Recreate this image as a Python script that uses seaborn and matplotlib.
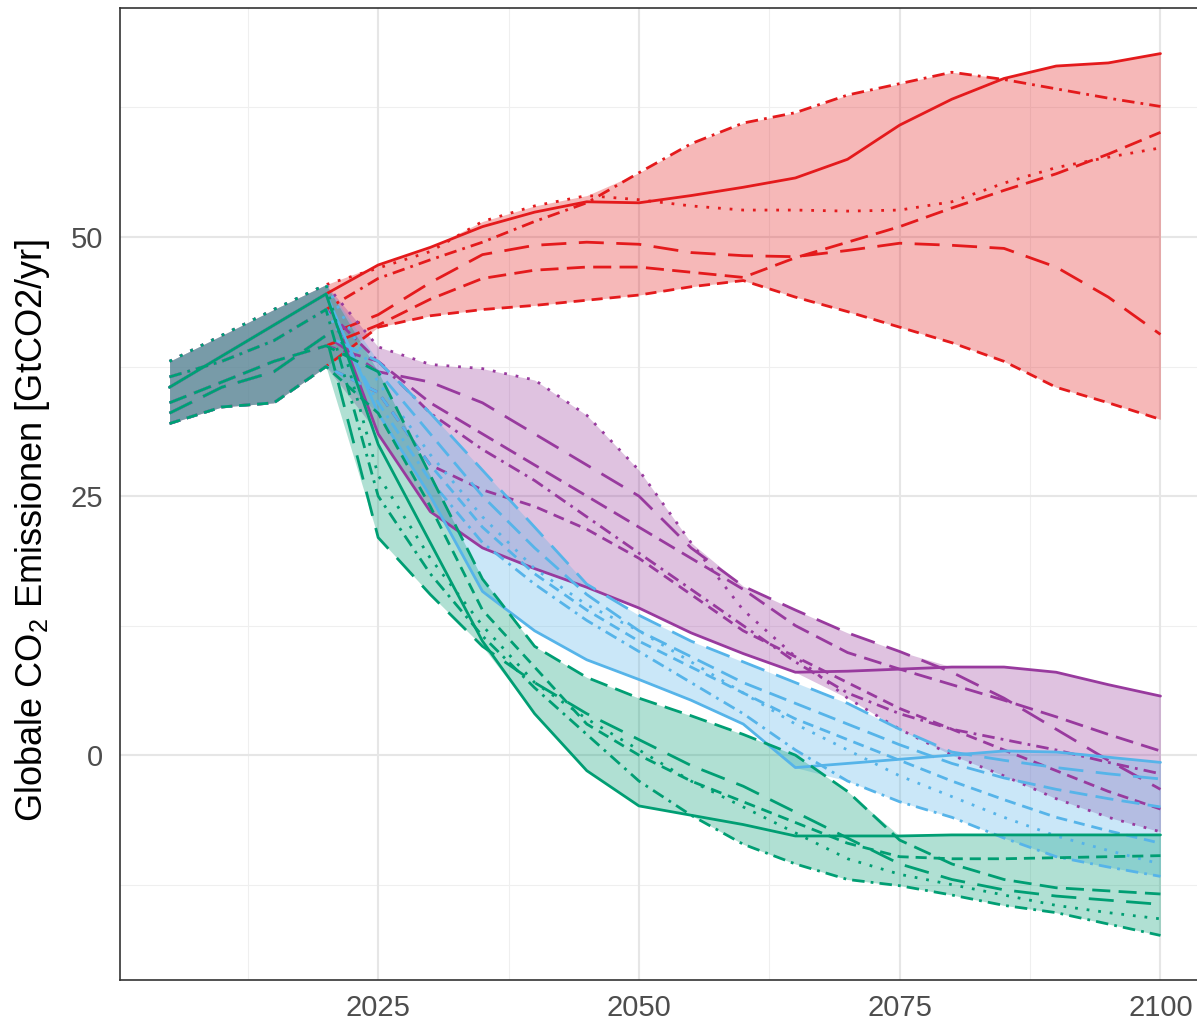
import numpy as np
import pandas as pd
import matplotlib
matplotlib.use("Agg")
import matplotlib.pyplot as plt
import seaborn as sns

# ---------------- data ----------------
YEARS_HIST = [2005, 2010, 2015, 2020]
YEARS_FUT = [2025, 2030, 2035, 2040, 2045, 2050, 2055, 2060,
             2065, 2070, 2075, 2080, 2085, 2090, 2095, 2100]

MODELS = ["M1", "M2", "M3", "M4", "M5", "M6"]
SCENARIOS = ["hoch", "mittel", "niedrig", "sehr niedrig"]

# historical values per model (shared by all scenarios)
HIST_M1 = [35.5, 38.5, 41.5, 44.5]
HIST_M2 = [32.0, 33.6, 34.0, 37.5]
HIST_M3 = [34.0, 36.0, 38.0, 39.5]
HIST_M4 = [33.0, 35.5, 37.0, 40.5]
HIST_M5 = [38.0, 40.5, 43.0, 45.4]
HIST_M6 = [36.5, 38.0, 40.0, 43.0]

# high-emission scenario (red)
HOCH_M1 = [47.3, 49.0, 51.0, 52.4, 53.4, 53.3, 54.0, 54.8, 55.7, 57.5, 60.8, 63.3, 65.3, 66.5, 66.8, 67.7]
HOCH_M2 = [41.3, 42.4, 43.0, 43.4, 43.9, 44.4, 45.2, 45.8, 44.2, 42.8, 41.3, 39.8, 38.0, 35.5, 34.0, 32.4]
HOCH_M3 = [41.5, 44.0, 46.0, 46.8, 47.1, 47.1, 46.6, 46.1, 48.0, 49.5, 51.0, 52.8, 54.5, 56.1, 58.0, 60.1]
HOCH_M4 = [42.5, 45.6, 48.3, 49.2, 49.5, 49.3, 48.5, 48.2, 48.1, 48.7, 49.4, 49.2, 48.9, 47.1, 44.2, 40.6]
HOCH_M5 = [47.0, 48.6, 51.5, 53.0, 54.0, 53.6, 53.0, 52.6, 52.6, 52.5, 52.6, 53.4, 55.2, 56.7, 57.7, 58.6]
HOCH_M6 = [46.0, 47.8, 49.5, 51.5, 53.3, 56.2, 59.0, 61.0, 62.0, 63.7, 64.8, 65.9, 65.2, 64.3, 63.4, 62.6]

# medium scenario (purple)
MITTEL_M1 = [31.0, 23.5, 20.0, 18.0, 16.2, 14.2, 11.8, 9.8, 8.0, 8.1, 8.3, 8.5, 8.5, 8.0, 6.8, 5.7]
MITTEL_M2 = [35.0, 28.0, 25.6, 24.0, 21.8, 19.0, 15.5, 12.0, 9.5, 7.0, 4.5, 2.5, 0.5, -1.5, -3.5, -5.2]
MITTEL_M3 = [38.0, 34.0, 31.0, 28.0, 25.0, 22.0, 19.0, 16.0, 12.5, 9.9, 8.3, 6.8, 5.3, 3.7, 2.0, 0.4]
MITTEL_M4 = [37.0, 36.0, 34.0, 31.0, 28.0, 25.0, 20.0, 16.3, 14.0, 11.8, 10.0, 8.0, 5.5, 2.5, -0.5, -3.3]
MITTEL_M5 = [39.4, 37.7, 37.3, 36.2, 32.8, 27.5, 20.5, 14.0, 9.5, 5.5, 2.5, 0.0, -2.0, -4.2, -6.0, -7.4]
MITTEL_M6 = [38.0, 33.0, 29.5, 26.5, 23.0, 19.5, 16.0, 12.5, 9.0, 6.0, 4.0, 2.5, 1.5, 0.5, -0.7, -1.8]

# low scenario (blue)
NIEDRIG_M1 = [33.0, 25.0, 15.8, 12.0, 9.2, 7.3, 5.3, 3.0, -1.2, -0.8, -0.4, 0.0, 0.4, 0.3, -0.2, -0.7]
NIEDRIG_M2 = [35.0, 28.0, 22.0, 17.5, 14.0, 11.0, 8.5, 6.0, 3.5, 1.5, -0.5, -2.5, -4.3, -6.0, -7.3, -8.5]
NIEDRIG_M3 = [37.0, 31.0, 25.0, 20.0, 15.5, 12.0, 9.5, 7.0, 5.0, 3.0, 1.0, -0.8, -2.2, -3.3, -4.2, -5.0]
NIEDRIG_M4 = [38.0, 33.0, 27.5, 22.0, 16.5, 13.5, 11.0, 9.0, 7.0, 5.0, 2.5, 0.3, -0.5, -1.2, -1.8, -2.3]
NIEDRIG_M5 = [36.0, 29.0, 23.0, 18.0, 14.5, 12.0, 9.0, 6.0, 3.0, 0.5, -2.0, -4.0, -6.0, -7.8, -9.2, -10.5]
NIEDRIG_M6 = [34.0, 26.5, 20.5, 16.5, 13.0, 10.0, 7.0, 4.0, 0.5, -2.5, -4.5, -6.0, -8.0, -9.8, -10.8, -11.7]

# very low scenario (green)
SEHRNIEDRIG_M1 = [30.0, 20.5, 11.0, 4.0, -1.5, -4.9, -5.8, -6.7, -7.8, -7.8, -7.8, -7.7, -7.7, -7.7, -7.7, -7.7]
SEHRNIEDRIG_M2 = [33.0, 24.0, 14.0, 8.5, 3.0, 0.0, -2.5, -4.5, -6.5, -8.5, -9.8, -10.0, -10.0, -9.9, -9.8, -9.7]
SEHRNIEDRIG_M3 = [37.0, 27.0, 17.0, 10.5, 7.5, 5.5, 3.8, 2.0, 0.0, -3.5, -8.2, -10.5, -12.0, -12.8, -13.1, -13.4]
SEHRNIEDRIG_M4 = [21.0, 15.5, 10.5, 7.0, 4.0, 1.5, -1.0, -3.0, -5.5, -8.0, -10.5, -12.0, -13.0, -13.6, -14.0, -14.4]
SEHRNIEDRIG_M5 = [27.0, 19.0, 12.5, 7.0, 3.5, 0.5, -2.5, -5.0, -7.5, -10.0, -11.5, -12.5, -13.5, -14.5, -15.2, -15.8]
SEHRNIEDRIG_M6 = [25.0, 17.5, 11.5, 6.5, 2.0, -2.5, -5.8, -8.6, -10.5, -12.0, -12.6, -13.5, -14.5, -15.2, -16.3, -17.4]

X_TICKS = [2025, 2050, 2075, 2100]
Y_TICKS = [0, 25, 50]
Y_LABEL = "Globale CO$_2$ Emissionen [GtCO2/yr]"

# ---------------- assemble ----------------
hist = {"M1": HIST_M1, "M2": HIST_M2, "M3": HIST_M3,
        "M4": HIST_M4, "M5": HIST_M5, "M6": HIST_M6}
fut = {
    "hoch": [HOCH_M1, HOCH_M2, HOCH_M3, HOCH_M4, HOCH_M5, HOCH_M6],
    "mittel": [MITTEL_M1, MITTEL_M2, MITTEL_M3, MITTEL_M4, MITTEL_M5, MITTEL_M6],
    "niedrig": [NIEDRIG_M1, NIEDRIG_M2, NIEDRIG_M3, NIEDRIG_M4, NIEDRIG_M5, NIEDRIG_M6],
    "sehr niedrig": [SEHRNIEDRIG_M1, SEHRNIEDRIG_M2, SEHRNIEDRIG_M3,
                     SEHRNIEDRIG_M4, SEHRNIEDRIG_M5, SEHRNIEDRIG_M6],
}
rows = []
for sc in SCENARIOS:
    for m, vals in zip(MODELS, fut[sc]):
        for y, v in zip(YEARS_HIST + YEARS_FUT, hist[m] + vals):
            rows.append((sc, m, y, v))
df = pd.DataFrame(rows, columns=["scenario", "model", "year", "value"])

line_col = {"hoch": "#E41A1C", "mittel": "#983A9E",
            "niedrig": "#56B4E9", "sehr niedrig": "#009E73"}
dash_map = {"M1": "", "M2": (4, 2.5), "M3": (6.5, 3), "M4": (9, 4.5),
            "M5": (1, 3.2), "M6": (4.5, 2.2, 1, 2.2)}

# ---------------- figure ----------------
sns.set_theme(style="white")
plt.rcParams["font.family"] = ["Liberation Sans", "DejaVu Sans"]
plt.rcParams["mathtext.fontset"] = "custom"
plt.rcParams["mathtext.rm"] = "Liberation Sans"
plt.rcParams["mathtext.it"] = "Liberation Sans"

W, H = 1197, 1022
fig = plt.figure(figsize=(W / 100, H / 100), dpi=100)
x0, x1, ytop, ybot = 120, 1210, 8, 980
ax = fig.add_axes([x0 / W, 1 - ybot / H, (x1 - x0) / W, (ybot - ytop) / H])
ax.set_facecolor("white")

# grid
for xv in [2012.5, 2037.5, 2062.5, 2087.5]:
    ax.axvline(xv, color="#EFEFEF", lw=0.8, zorder=0)
for yv in [-12.5, 12.5, 37.5, 62.5]:
    ax.axhline(yv, color="#EFEFEF", lw=0.8, zorder=0)
for xv in X_TICKS:
    ax.axvline(xv, color="#E6E6E6", lw=1.5, zorder=0)
for yv in Y_TICKS:
    ax.axhline(yv, color="#E6E6E6", lw=1.5, zorder=0)

# ribbons
for sc in SCENARIOS:
    agg = df[df.scenario == sc].groupby("year")["value"].agg(["min", "max"])
    ax.fill_between(agg.index, agg["min"], agg["max"], color=line_col[sc],
                    alpha=0.31, lw=0, zorder=1)

# lines
sns.lineplot(data=df, x="year", y="value", hue="scenario", style="model",
             hue_order=SCENARIOS, style_order=MODELS, palette=line_col,
             dashes=dash_map, estimator=None, sort=True,
             linewidth=2.0, legend=False, ax=ax, zorder=2)

ax.set_xlim(2000.25, 2104.75)
ax.set_ylim(-21.7, 72.1)
ax.set_xticks(X_TICKS)
ax.set_yticks(Y_TICKS)
ax.tick_params(axis="both", labelsize=21, colors="#4D4D4D", length=5,
               width=1.1, direction="out")
ax.tick_params(axis="x", pad=5, color="#333333")
ax.tick_params(axis="y", pad=7, color="#333333")
ax.set_xlabel("")
ax.set_ylabel("")
for s in ax.spines.values():
    s.set_color("#333333")
    s.set_linewidth(1.2)

fig.text(33 / W, 1 - 530 / H, Y_LABEL, rotation=90, ha="center", va="center",
         fontsize=26, color="black")

fig.savefig("out.png", dpi=100)
